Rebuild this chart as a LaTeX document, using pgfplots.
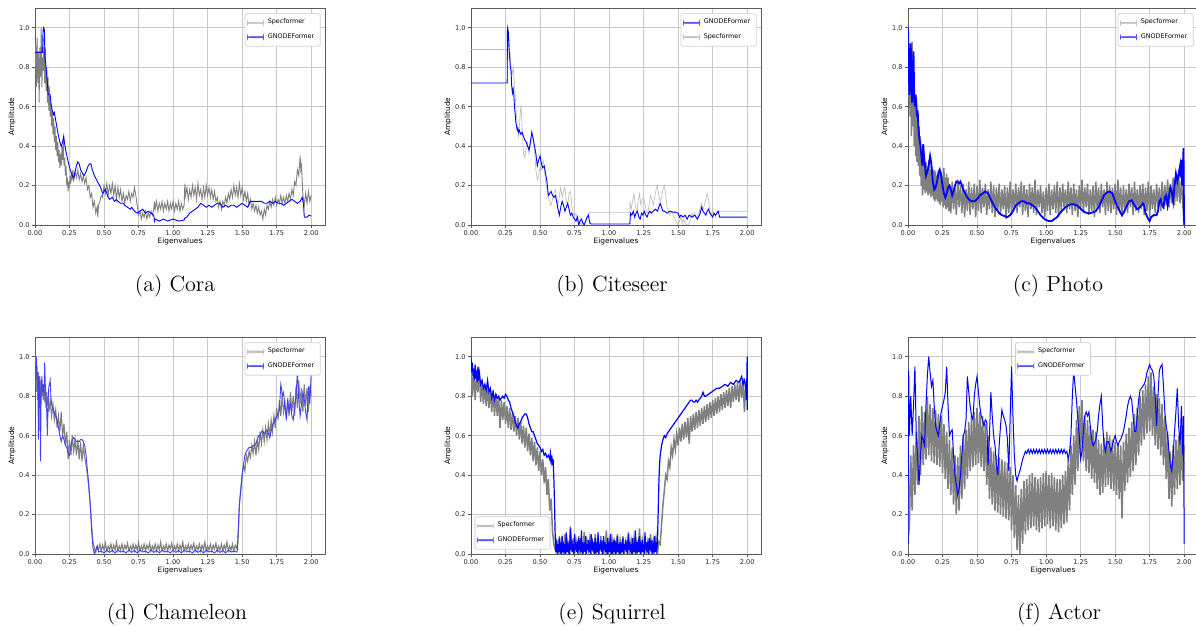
\documentclass[border=0pt]{standalone}
\usepackage{fontspec}
\usepackage{xcolor}
\usepackage{pgfplots}
\pgfplotsset{compat=1.18}
\newfontfamily\djv{DejaVu Sans}
\definecolor{spec}{RGB}{128,128,128}
\definecolor{specleg}{RGB}{192,192,192}
\definecolor{gnode}{RGB}{0,0,255}
\definecolor{gnodeleg}{RGB}{80,80,250}
\definecolor{gridc}{RGB}{200,200,200}
\definecolor{framec}{RGB}{90,90,90}
\newcommand{\tkfont}{\djv\fontsize{3.3}{4}\selectfont}
\newcommand{\lbfont}{\djv\fontsize{3.7}{4.4}\selectfont}
\newcommand{\lgfont}{\djv\fontsize{3.2}{3.8}\selectfont}
\newcommand{\capfont}{\fontsize{11}{13}\selectfont}
\pgfplotsset{
  panel/.style={
    scale only axis, width=145pt, height=108.5pt,
    xmin=0, xmax=2.1, ymin=0, ymax=1.1,
    xtick={0,0.25,0.5,0.75,1,1.25,1.5,1.75,2},
    xticklabels={0.00,0.25,0.50,0.75,1.00,1.25,1.50,1.75,2.00},
    ytick={0,0.2,0.4,0.6,0.8,1.0},
    yticklabels={0.0,0.2,0.4,0.6,0.8,1.0},
    xtick pos=bottom, ytick pos=left,
    grid=major, grid style={draw=gridc, line width=0.45pt},
    axis line style={draw=framec, line width=0.4pt},
    tick style={draw=framec, line width=0.3pt},
    tick align=outside, major tick length=1.5pt,
    ticklabel style={font=\tkfont, text=black!85},
    xticklabel style={inner sep=1pt},
    yticklabel style={inner sep=1pt},
    xlabel={Eigenvalues}, ylabel={Amplitude},
    label style={font=\lbfont},
    xlabel style={at={(axis description cs:0.5,-0.078)}, anchor=center},
    ylabel style={at={(axis description cs:-0.079,0.5)}, anchor=center},
    legend style={font=\lgfont, draw=gray!35, rounded corners=1pt,
      inner xsep=1pt, inner ysep=0.6pt, row sep=-0.8pt,
      at={(0.985,0.975)}, anchor=north east},
    legend cell align=left,
  },
  sp/.style={draw=spec, line width=0.45pt, forget plot},
  gn/.style={draw=gnode, line width=0.45pt, forget plot},
  lsp/.style={legend image code/.code={\fill[specleg] (0pt,-0.2pt) rectangle (8pt,0.2pt);}},
  lspw/.style={legend image code/.code={\fill[specleg] (0pt,-0.4pt) rectangle (8pt,0.4pt);}},
  lgn/.style={legend image code/.code={\fill[gnodeleg] (0pt,-0.22pt) rectangle (8pt,0.22pt);}},
}
\begin{document}
\begin{tikzpicture}
\path[use as bounding box] (0,0) rectangle (598pt,313pt);

%% (a) Cora
\begin{axis}[panel, at={(17.5pt,200.5pt)}, anchor=south west]
\addplot[sp] coordinates {
(0.000,0.80)(0.005,0.92)(0.010,0.70)(0.015,0.95)(0.020,0.72)(0.025,0.88)(0.030,0.62)(0.035,0.90)(0.040,0.75)(0.045,1.00)
(0.050,0.70)(0.055,0.85)(0.060,0.78)(0.065,0.95)(0.070,0.72)(0.075,0.90)(0.080,0.68)(0.085,0.80)(0.090,0.62)(0.095,0.75)
(0.100,0.58)(0.105,0.70)(0.110,0.55)(0.115,0.62)(0.120,0.50)(0.125,0.58)(0.130,0.46)(0.135,0.54)(0.140,0.42)(0.145,0.50)
(0.150,0.38)(0.155,0.45)(0.160,0.35)(0.165,0.42)(0.170,0.32)(0.175,0.38)(0.180,0.29)(0.185,0.36)(0.190,0.30)(0.195,0.40)
(0.200,0.33)(0.205,0.45)(0.210,0.30)(0.215,0.34)(0.220,0.25)(0.225,0.30)(0.230,0.20)(0.235,0.24)(0.240,0.17)(0.245,0.22)
(0.250,0.19)(0.255,0.25)(0.260,0.21)(0.265,0.27)(0.270,0.23)(0.275,0.28)(0.280,0.22)(0.290,0.27)(0.300,0.24)(0.310,0.28)
(0.320,0.23)(0.330,0.26)(0.340,0.22)(0.350,0.25)(0.360,0.21)(0.370,0.24)(0.380,0.18)(0.390,0.20)(0.400,0.14)(0.410,0.16)
(0.420,0.09)(0.430,0.12)(0.440,0.06)(0.450,0.09)(0.455,0.04)(0.460,0.10)(0.470,0.12)(0.480,0.15)(0.490,0.14)(0.500,0.20)
(0.510,0.16)(0.520,0.21)(0.530,0.15)(0.540,0.20)(0.550,0.16)(0.560,0.21)(0.570,0.15)(0.580,0.20)(0.590,0.13)(0.600,0.19)
(0.610,0.14)(0.620,0.18)(0.630,0.12)(0.640,0.16)(0.650,0.11)(0.660,0.15)(0.670,0.13)(0.680,0.17)(0.690,0.12)(0.700,0.16)
(0.710,0.14)(0.720,0.19)(0.730,0.15)(0.740,0.10)(0.750,0.05)(0.760,0.07)(0.770,0.03)(0.780,0.06)(0.790,0.04)(0.800,0.07)
(0.810,0.03)(0.820,0.06)(0.830,0.04)(0.840,0.07)(0.850,0.05)(0.860,0.08)(0.865,0.12)(0.870,0.08)(0.880,0.12)(0.890,0.07)
(0.900,0.11)(0.910,0.08)(0.920,0.12)(0.930,0.07)(0.940,0.11)(0.950,0.08)(0.960,0.12)(0.970,0.07)(0.980,0.11)(0.990,0.08)
(1.000,0.12)(1.010,0.07)(1.020,0.11)(1.030,0.08)(1.040,0.12)(1.050,0.07)(1.060,0.11)(1.070,0.08)(1.080,0.10)(1.085,0.21)
(1.090,0.15)(1.100,0.19)(1.110,0.13)(1.120,0.18)(1.130,0.14)(1.140,0.20)(1.150,0.15)(1.160,0.19)(1.170,0.13)(1.180,0.21)
(1.190,0.15)(1.200,0.18)(1.210,0.13)(1.220,0.19)(1.230,0.14)(1.240,0.20)(1.250,0.15)(1.260,0.19)(1.270,0.14)(1.280,0.18)
(1.290,0.13)(1.300,0.17)(1.310,0.12)(1.320,0.14)(1.330,0.09)(1.340,0.12)(1.350,0.08)(1.360,0.12)(1.370,0.10)(1.380,0.14)
(1.390,0.11)(1.400,0.16)(1.410,0.13)(1.420,0.18)(1.430,0.14)(1.440,0.20)(1.450,0.15)(1.460,0.19)(1.470,0.14)(1.480,0.21)
(1.490,0.15)(1.500,0.19)(1.510,0.13)(1.520,0.17)(1.530,0.12)(1.540,0.16)(1.550,0.10)(1.560,0.13)(1.570,0.08)(1.580,0.11)
(1.590,0.07)(1.600,0.10)(1.610,0.06)(1.620,0.09)(1.630,0.05)(1.640,0.07)(1.650,0.03)(1.660,0.08)(1.670,0.05)(1.680,0.10)
(1.690,0.08)(1.700,0.12)(1.710,0.09)(1.720,0.13)(1.730,0.10)(1.740,0.14)(1.750,0.10)(1.760,0.13)(1.770,0.11)(1.780,0.15)
(1.790,0.11)(1.800,0.14)(1.810,0.11)(1.820,0.15)(1.830,0.12)(1.840,0.16)(1.850,0.13)(1.860,0.18)(1.870,0.15)(1.880,0.22)
(1.890,0.20)(1.900,0.28)(1.910,0.25)(1.920,0.35)(1.925,0.28)(1.930,0.30)(1.940,0.15)(1.950,0.10)(1.960,0.16)(1.970,0.11)
(1.980,0.17)(1.990,0.12)(2.000,0.15)};
\addplot[gn] coordinates {
(0.000,0.875)(0.055,0.875)(0.058,0.98)(0.062,1.00)(0.068,0.99)(0.072,0.85)(0.080,0.80)(0.090,0.72)(0.095,0.66)(0.110,0.66)
(0.115,0.62)(0.125,0.58)(0.135,0.56)(0.140,0.57)(0.150,0.53)(0.160,0.49)(0.170,0.45)(0.180,0.42)(0.190,0.40)(0.200,0.42)
(0.208,0.45)(0.215,0.41)(0.225,0.37)(0.240,0.32)(0.255,0.28)(0.270,0.25)(0.280,0.24)(0.290,0.27)(0.300,0.30)(0.310,0.32)
(0.320,0.31)(0.330,0.28)(0.345,0.26)(0.355,0.25)(0.370,0.27)(0.385,0.30)(0.395,0.31)(0.405,0.31)(0.415,0.28)(0.430,0.25)
(0.445,0.23)(0.460,0.21)(0.475,0.19)(0.490,0.16)(0.500,0.17)(0.510,0.18)(0.520,0.16)(0.530,0.14)(0.540,0.13)(0.560,0.14)
(0.575,0.12)(0.590,0.13)(0.600,0.12)(0.620,0.11)(0.640,0.11)(0.650,0.10)(0.670,0.09)(0.690,0.08)(0.700,0.09)(0.720,0.07)
(0.740,0.06)(0.760,0.07)(0.780,0.08)(0.800,0.06)(0.820,0.07)(0.840,0.06)(0.860,0.05)(0.865,0.02)(0.870,0.03)(0.900,0.02)
(0.930,0.03)(0.960,0.02)(1.000,0.03)(1.040,0.02)(1.080,0.025)(1.085,0.035)(1.100,0.04)(1.120,0.06)(1.140,0.07)(1.160,0.08)
(1.180,0.09)(1.200,0.11)(1.220,0.10)(1.240,0.09)(1.260,0.10)(1.280,0.09)(1.300,0.10)(1.320,0.11)(1.340,0.11)(1.360,0.09)
(1.380,0.10)(1.400,0.09)(1.420,0.10)(1.440,0.10)(1.460,0.09)(1.480,0.10)(1.500,0.11)(1.520,0.10)(1.540,0.09)(1.560,0.12)
(1.600,0.12)(1.620,0.12)(1.640,0.12)(1.660,0.11)(1.680,0.11)(1.700,0.12)(1.720,0.11)(1.740,0.12)(1.760,0.11)(1.780,0.11)
(1.800,0.10)(1.820,0.11)(1.840,0.12)(1.860,0.13)(1.880,0.12)(1.900,0.11)(1.920,0.12)(1.935,0.14)(1.945,0.10)(1.950,0.04)
(1.970,0.04)(1.985,0.05)(2.000,0.045)};
\addlegendimage{lsp}\addlegendentry{Specformer}
\addlegendimage{lgn}\addlegendentry{GNODEFormer}
\end{axis}

%% (b) Citeseer
\begin{axis}[panel, at={(235.5pt,200.5pt)}, anchor=south west]
\addplot[sp, draw=specleg, line width=0.35pt] coordinates {
(0.000,0.89)(0.262,0.89)(0.265,0.72)(0.268,1.00)(0.275,0.95)(0.285,0.85)(0.295,0.75)(0.305,0.80)(0.315,0.72)(0.325,0.60)
(0.335,0.50)(0.345,0.45)(0.355,0.55)(0.362,0.61)(0.370,0.50)(0.380,0.36)(0.390,0.34)(0.400,0.40)(0.410,0.42)(0.420,0.36)
(0.430,0.40)(0.440,0.45)(0.450,0.43)(0.460,0.38)(0.470,0.28)(0.480,0.23)(0.490,0.25)(0.500,0.30)(0.510,0.28)(0.520,0.33)
(0.530,0.30)(0.540,0.22)(0.550,0.18)(0.560,0.14)(0.570,0.12)(0.580,0.10)(0.590,0.13)(0.600,0.16)(0.610,0.18)(0.620,0.14)
(0.630,0.10)(0.640,0.15)(0.650,0.19)(0.660,0.14)(0.670,0.17)(0.680,0.19)(0.690,0.12)(0.700,0.10)(0.710,0.16)(0.720,0.17)
(0.730,0.10)(0.740,0.06)(0.750,0.04)(0.760,0.06)(0.770,0.02)(0.780,0.03)(0.790,0.01)(0.800,0.00)(0.810,0.02)(0.820,0.00)
(0.840,0.03)(0.855,0.065)(1.150,0.065)(1.152,0.12)(1.160,0.08)(1.170,0.12)(1.180,0.16)(1.190,0.10)(1.200,0.06)(1.210,0.12)
(1.220,0.16)(1.230,0.10)(1.240,0.13)(1.250,0.14)(1.260,0.10)(1.270,0.07)(1.280,0.06)(1.290,0.10)(1.300,0.15)(1.310,0.13)
(1.320,0.10)(1.330,0.14)(1.340,0.18)(1.350,0.20)(1.360,0.15)(1.370,0.12)(1.380,0.14)(1.390,0.18)(1.400,0.20)(1.410,0.15)
(1.420,0.09)(1.430,0.07)(1.440,0.05)(1.450,0.07)(1.460,0.06)(1.470,0.04)(1.480,0.03)(1.490,0.01)(1.500,0.00)(1.510,0.02)
(1.520,0.04)(1.530,0.01)(1.540,0.03)(1.550,0.01)(1.560,0.00)(1.570,0.00)(1.580,0.01)(1.590,0.03)(1.600,0.06)(1.610,0.04)
(1.620,0.06)(1.630,0.03)(1.640,0.05)(1.650,0.06)(1.660,0.09)(1.670,0.11)(1.680,0.08)(1.690,0.10)(1.700,0.13)(1.710,0.16)
(1.720,0.13)(1.730,0.07)(1.740,0.05)(1.750,0.08)(1.760,0.06)(1.770,0.04)(1.780,0.06)(1.790,0.07)(2.000,0.07)};
\addplot[gn] coordinates {
(0.000,0.72)(0.262,0.72)(0.264,1.00)(0.270,0.98)(0.275,0.90)(0.280,0.85)(0.285,0.80)(0.290,0.78)(0.295,0.70)(0.300,0.67)
(0.305,0.69)(0.310,0.66)(0.315,0.60)(0.320,0.56)(0.325,0.52)(0.330,0.50)(0.335,0.48)(0.340,0.49)(0.345,0.47)(0.350,0.48)
(0.360,0.46)(0.370,0.47)(0.380,0.45)(0.390,0.43)(0.400,0.42)(0.410,0.40)(0.420,0.38)(0.430,0.42)(0.440,0.47)(0.450,0.44)
(0.460,0.40)(0.470,0.36)(0.480,0.30)(0.490,0.33)(0.500,0.35)(0.510,0.31)(0.520,0.29)(0.530,0.30)(0.540,0.26)(0.550,0.22)
(0.560,0.15)(0.570,0.16)(0.580,0.17)(0.590,0.15)(0.600,0.14)(0.610,0.15)(0.620,0.12)(0.630,0.08)(0.640,0.05)(0.650,0.09)
(0.660,0.12)(0.670,0.10)(0.680,0.07)(0.690,0.09)(0.700,0.11)(0.710,0.08)(0.720,0.05)(0.730,0.06)(0.740,0.04)(0.750,0.03)
(0.760,0.02)(0.770,0.04)(0.780,0.00)(0.790,0.02)(0.800,0.03)(0.810,0.01)(0.820,0.00)(0.830,0.02)(0.840,0.04)(0.850,0.05)
(0.860,0.01)(0.870,0.005)(1.150,0.005)(1.155,0.06)(1.165,0.05)(1.175,0.07)(1.185,0.04)(1.195,0.06)(1.205,0.07)(1.215,0.04)
(1.225,0.03)(1.235,0.06)(1.245,0.05)(1.255,0.07)(1.265,0.05)(1.275,0.04)(1.285,0.06)(1.295,0.07)(1.305,0.06)(1.320,0.07)
(1.335,0.08)(1.350,0.07)(1.360,0.09)(1.370,0.11)(1.380,0.09)(1.390,0.07)(1.400,0.07)(1.420,0.06)(1.440,0.07)(1.460,0.065)
(1.480,0.065)(1.500,0.06)(1.510,0.04)(1.520,0.05)(1.535,0.04)(1.550,0.05)(1.565,0.03)(1.580,0.05)(1.600,0.04)(1.620,0.05)
(1.640,0.03)(1.660,0.06)(1.670,0.09)(1.680,0.07)(1.690,0.06)(1.700,0.05)(1.710,0.07)(1.720,0.08)(1.730,0.06)(1.740,0.05)
(1.750,0.04)(1.760,0.06)(1.770,0.05)(1.780,0.06)(1.790,0.07)(1.800,0.04)(2.000,0.04)};
\addlegendimage{lgn}\addlegendentry{GNODEFormer}
\addlegendimage{lsp}\addlegendentry{Specformer}
\end{axis}

%% (c) Photo
\begin{axis}[panel, at={(454pt,200.5pt)}, anchor=south west]
\addplot[sp, line width=0.75pt] coordinates {
(0.000,1.00)(0.005,0.65)(0.010,0.92)(0.015,0.55)(0.020,0.85)(0.025,0.45)(0.030,0.93)(0.035,0.50)(0.040,0.72)(0.045,0.40)
(0.050,0.65)(0.055,0.35)(0.060,0.60)(0.065,0.32)(0.070,0.55)(0.075,0.30)(0.080,0.50)(0.085,0.25)(0.090,0.45)(0.095,0.20)
(0.100,0.38)(0.105,0.15)(0.110,0.34)(0.115,0.18)(0.120,0.30)(0.125,0.16)(0.130,0.32)(0.135,0.17)(0.140,0.30)(0.145,0.15)
(0.150,0.33)(0.155,0.16)(0.160,0.28)(0.165,0.14)(0.170,0.30)(0.175,0.15)(0.180,0.27)(0.185,0.13)(0.190,0.28)(0.195,0.12)
(0.200,0.27)(0.205,0.13)(0.210,0.25)(0.215,0.12)(0.220,0.28)(0.225,0.11)(0.230,0.26)(0.235,0.10)(0.240,0.27)(0.245,0.12)
(0.250,0.25)(0.255,0.09)(0.260,0.29)(0.265,0.10)(0.270,0.24)(0.275,0.08)(0.280,0.26)(0.285,0.09)(0.290,0.24)(0.295,0.07)
(0.30,0.20)(0.31,0.06)(0.32,0.22)(0.33,0.08)(0.34,0.19)(0.35,0.05)(0.36,0.23)(0.37,0.09)(0.38,0.20)(0.39,0.06)
(0.40,0.21)(0.41,0.04)(0.42,0.18)(0.43,0.07)(0.44,0.22)(0.45,0.05)(0.46,0.19)(0.47,0.08)(0.48,0.21)(0.49,0.04)
(0.50,0.20)(0.51,0.07)(0.52,0.23)(0.53,0.06)(0.54,0.19)(0.55,0.09)(0.56,0.21)(0.57,0.05)(0.58,0.18)(0.59,0.08)
(0.60,0.22)(0.61,0.06)(0.62,0.20)(0.63,0.04)(0.64,0.19)(0.65,0.07)(0.66,0.21)(0.67,0.05)(0.68,0.18)(0.69,0.08)
(0.70,0.20)(0.71,0.03)(0.72,0.19)(0.73,0.06)(0.74,0.22)(0.75,0.05)(0.76,0.18)(0.77,0.08)(0.78,0.21)(0.79,0.06)
(0.80,0.19)(0.81,0.09)(0.82,0.22)(0.83,0.05)(0.84,0.20)(0.85,0.07)(0.86,0.18)(0.87,0.04)(0.88,0.21)(0.89,0.08)
(0.90,0.19)(0.91,0.06)(0.92,0.23)(0.93,0.05)(0.94,0.18)(0.95,0.09)(0.96,0.20)(0.97,0.06)(0.98,0.17)(0.99,0.04)
(1.00,0.19)(1.01,0.07)(1.02,0.21)(1.03,0.05)(1.04,0.18)(1.05,0.08)(1.06,0.20)(1.07,0.06)(1.08,0.22)(1.09,0.04)
(1.10,0.19)(1.11,0.07)(1.12,0.21)(1.13,0.09)(1.14,0.18)(1.15,0.06)(1.16,0.22)(1.17,0.08)(1.18,0.19)(1.19,0.05)
(1.20,0.21)(1.21,0.07)(1.22,0.18)(1.23,0.04)(1.24,0.20)(1.25,0.08)(1.26,0.23)(1.27,0.06)(1.28,0.19)(1.29,0.09)
(1.30,0.21)(1.31,0.05)(1.32,0.18)(1.33,0.07)(1.34,0.20)(1.35,0.04)(1.36,0.22)(1.37,0.08)(1.38,0.19)(1.39,0.06)
(1.40,0.21)(1.41,0.09)(1.42,0.18)(1.43,0.05)(1.44,0.22)(1.45,0.07)(1.46,0.20)(1.47,0.06)(1.48,0.19)(1.49,0.08)
(1.50,0.21)(1.51,0.05)(1.52,0.23)(1.53,0.07)(1.54,0.19)(1.55,0.04)(1.56,0.20)(1.57,0.08)(1.58,0.18)(1.59,0.06)
(1.60,0.21)(1.61,0.09)(1.62,0.19)(1.63,0.05)(1.64,0.22)(1.65,0.07)(1.66,0.18)(1.67,0.06)(1.68,0.20)(1.69,0.08)
(1.70,0.21)(1.71,0.05)(1.72,0.19)(1.73,0.07)(1.74,0.22)(1.75,0.04)(1.76,0.20)(1.77,0.08)(1.78,0.18)(1.79,0.06)
(1.80,0.21)(1.81,0.09)(1.82,0.19)(1.83,0.07)(1.84,0.22)(1.85,0.08)(1.86,0.20)(1.87,0.10)(1.88,0.23)(1.89,0.09)
(1.90,0.21)(1.91,0.11)(1.92,0.24)(1.93,0.10)(1.94,0.22)(1.95,0.12)(1.96,0.25)(1.97,0.11)(1.98,0.23)(1.99,0.10)(2.00,0.00)};
\addplot[gn, line width=0.9pt] coordinates {
(0.000,1.00)(0.005,0.80)(0.010,0.66)(0.015,0.78)(0.020,0.92)(0.025,0.70)(0.030,0.62)(0.035,0.80)(0.040,0.88)(0.045,0.65)
(0.050,0.60)(0.055,0.66)(0.060,0.62)(0.065,0.55)(0.070,0.58)(0.075,0.50)(0.080,0.45)(0.090,0.40)(0.100,0.33)(0.105,0.30)
(0.110,0.41)(0.115,0.36)(0.120,0.32)(0.130,0.25)(0.140,0.27)(0.150,0.30)(0.160,0.35)(0.165,0.33)(0.170,0.30)(0.180,0.22)
(0.190,0.18)(0.200,0.19)(0.210,0.22)(0.220,0.26)(0.230,0.28)(0.240,0.25)(0.250,0.20)(0.260,0.16)(0.270,0.14)(0.280,0.16)
(0.290,0.19)(0.300,0.20)(0.310,0.18)(0.320,0.15)(0.330,0.17)(0.340,0.20)(0.350,0.22)(0.360,0.22)(0.370,0.21)(0.380,0.22)
(0.390,0.20)(0.400,0.18)(0.420,0.15)(0.440,0.13)(0.460,0.12)(0.480,0.12)(0.500,0.13)(0.520,0.15)(0.540,0.16)(0.560,0.17)
(0.580,0.16)(0.600,0.13)(0.620,0.10)(0.640,0.08)(0.660,0.06)(0.680,0.05)(0.700,0.045)(0.720,0.04)(0.740,0.05)(0.760,0.07)
(0.780,0.10)(0.800,0.11)(0.820,0.12)(0.840,0.12)(0.860,0.11)(0.880,0.11)(0.900,0.10)(0.920,0.09)(0.940,0.07)(0.960,0.05)
(0.980,0.035)(1.000,0.025)(1.020,0.02)(1.040,0.02)(1.060,0.03)(1.080,0.04)(1.100,0.06)(1.120,0.075)(1.140,0.09)(1.160,0.10)
(1.180,0.105)(1.200,0.105)(1.220,0.10)(1.240,0.09)(1.260,0.075)(1.280,0.065)(1.300,0.06)(1.320,0.06)(1.340,0.065)(1.360,0.07)
(1.380,0.09)(1.400,0.12)(1.420,0.15)(1.440,0.165)(1.460,0.17)(1.480,0.16)(1.500,0.12)(1.520,0.09)(1.540,0.06)(1.550,0.05)
(1.560,0.06)(1.580,0.09)(1.600,0.12)(1.620,0.125)(1.640,0.10)(1.660,0.08)(1.680,0.09)(1.700,0.11)(1.710,0.10)(1.720,0.06)
(1.740,0.03)(1.750,0.02)(1.760,0.04)(1.780,0.05)(1.800,0.05)(1.810,0.07)(1.820,0.12)(1.830,0.13)(1.840,0.10)(1.850,0.09)
(1.860,0.14)(1.870,0.15)(1.880,0.10)(1.890,0.15)(1.900,0.19)(1.910,0.17)(1.920,0.12)(1.930,0.20)(1.940,0.26)(1.950,0.22)
(1.960,0.26)(1.970,0.30)(1.975,0.24)(1.980,0.33)(1.985,0.20)(1.990,0.28)(1.995,0.39)(1.998,0.10)(2.000,0.00)};
\addlegendimage{lsp}\addlegendentry{Specformer}
\addlegendimage{lgn}\addlegendentry{GNODEFormer}
\end{axis}

%% (d) Chameleon
\begin{axis}[panel, at={(17.5pt,36pt)}, anchor=south west]
\addplot[sp, line width=0.55pt] coordinates {
(0.000,0.85)(0.005,1.00)(0.010,0.82)(0.015,0.95)(0.020,0.78)(0.025,0.92)(0.030,0.80)(0.035,0.90)(0.040,0.76)(0.045,0.88)
(0.050,0.80)(0.055,0.86)(0.060,0.78)(0.065,0.84)(0.070,0.77)(0.075,0.83)(0.080,0.74)(0.085,0.82)(0.090,0.75)(0.095,0.80)
(0.10,0.72)(0.11,0.78)(0.12,0.70)(0.13,0.76)(0.14,0.68)(0.15,0.73)(0.16,0.64)(0.17,0.70)(0.18,0.62)(0.19,0.72)
(0.20,0.60)(0.21,0.66)(0.22,0.55)(0.23,0.62)(0.24,0.48)(0.25,0.58)(0.26,0.50)(0.27,0.60)(0.28,0.52)(0.29,0.58)
(0.30,0.50)(0.31,0.58)(0.32,0.48)(0.33,0.57)(0.34,0.47)(0.35,0.55)(0.36,0.49)(0.37,0.45)(0.38,0.40)(0.39,0.33)
(0.40,0.25)(0.41,0.15)(0.42,0.06)(0.43,0.03)(0.44,0.01)(0.45,0.04)
(0.46,0.02)(0.47,0.05)(0.48,0.015)(0.49,0.045)(0.50,0.02)(0.51,0.055)(0.52,0.015)(0.53,0.04)(0.54,0.02)(0.55,0.05)
(0.56,0.015)(0.57,0.045)(0.58,0.02)(0.59,0.06)(0.60,0.015)(0.61,0.04)(0.62,0.02)(0.63,0.05)(0.64,0.015)(0.65,0.045)
(0.66,0.025)(0.67,0.055)(0.68,0.015)(0.69,0.04)(0.70,0.02)(0.71,0.05)(0.72,0.015)(0.73,0.045)(0.74,0.02)(0.75,0.06)
(0.76,0.015)(0.77,0.04)(0.78,0.02)(0.79,0.05)(0.80,0.015)(0.81,0.045)(0.82,0.025)(0.83,0.055)(0.84,0.015)(0.85,0.04)
(0.86,0.02)(0.87,0.05)(0.88,0.015)(0.89,0.045)(0.90,0.02)(0.91,0.06)(0.92,0.015)(0.93,0.04)(0.94,0.02)(0.95,0.05)
(0.96,0.015)(0.97,0.045)(0.98,0.025)(0.99,0.055)(1.00,0.015)(1.01,0.04)(1.02,0.02)(1.03,0.05)(1.04,0.015)(1.05,0.045)
(1.06,0.02)(1.07,0.06)(1.08,0.015)(1.09,0.04)(1.10,0.02)(1.11,0.05)(1.12,0.015)(1.13,0.045)(1.14,0.025)(1.15,0.055)
(1.16,0.015)(1.17,0.04)(1.18,0.02)(1.19,0.05)(1.20,0.015)(1.21,0.045)(1.22,0.02)(1.23,0.06)(1.24,0.015)(1.25,0.04)
(1.26,0.02)(1.27,0.05)(1.28,0.015)(1.29,0.045)(1.30,0.025)(1.31,0.055)(1.32,0.015)(1.33,0.04)(1.34,0.02)(1.35,0.05)
(1.36,0.015)(1.37,0.045)(1.38,0.02)(1.39,0.06)(1.40,0.015)(1.41,0.04)(1.42,0.02)(1.43,0.05)(1.44,0.015)(1.45,0.045)
(1.46,0.03)(1.47,0.06)(1.475,0.15)(1.48,0.25)(1.49,0.33)(1.50,0.40)(1.51,0.45)(1.52,0.42)(1.53,0.50)(1.54,0.47)
(1.55,0.52)(1.56,0.49)(1.57,0.55)(1.58,0.51)(1.59,0.57)(1.60,0.50)(1.61,0.58)(1.62,0.53)(1.63,0.62)(1.64,0.56)
(1.65,0.63)(1.66,0.57)(1.67,0.64)(1.68,0.58)(1.69,0.66)(1.70,0.60)(1.71,0.68)(1.72,0.62)(1.73,0.70)(1.74,0.64)
(1.75,0.74)(1.76,0.68)(1.77,0.78)(1.78,0.70)(1.79,0.80)(1.80,0.72)(1.81,0.77)(1.82,0.68)(1.83,0.79)(1.84,0.70)
(1.85,0.82)(1.86,0.72)(1.87,0.80)(1.88,0.70)(1.89,0.85)(1.90,0.74)(1.91,0.88)(1.92,0.76)(1.93,0.84)(1.94,0.72)
(1.95,0.86)(1.96,0.75)(1.97,0.84)(1.98,0.72)(1.99,0.85)(2.00,0.80)};
\addplot[gn, draw=gnode!75] coordinates {
(0.000,0.82)(0.005,0.95)(0.010,1.00)(0.015,0.88)(0.020,0.92)(0.025,0.58)(0.030,0.90)(0.035,0.80)(0.040,0.47)(0.045,0.85)
(0.050,0.90)(0.055,0.82)(0.060,0.86)(0.065,0.80)(0.070,0.97)(0.075,0.85)(0.080,0.80)(0.085,0.72)(0.090,0.60)(0.095,0.78)
(0.100,0.85)(0.105,0.86)(0.110,0.88)(0.115,0.80)(0.120,0.76)(0.130,0.74)(0.140,0.72)(0.150,0.70)(0.160,0.68)(0.170,0.64)
(0.180,0.60)(0.190,0.57)(0.200,0.60)(0.210,0.58)(0.220,0.55)(0.230,0.54)(0.240,0.51)(0.250,0.50)(0.260,0.55)(0.270,0.58)
(0.280,0.59)(0.290,0.58)(0.300,0.57)(0.310,0.57)(0.320,0.57)(0.330,0.58)(0.340,0.58)(0.350,0.57)(0.360,0.55)(0.370,0.50)
(0.380,0.42)(0.390,0.35)(0.400,0.25)(0.410,0.12)(0.420,0.03)(0.430,0.00)(0.440,0.02)(0.450,0.04)(0.460,0.01)
(0.48,0.015)(0.50,0.005)(0.52,0.02)(0.54,0.008)(0.56,0.018)(0.58,0.005)(0.60,0.02)(0.62,0.01)(0.64,0.015)(0.66,0.005)
(0.68,0.02)(0.70,0.008)(0.72,0.018)(0.74,0.005)(0.76,0.02)(0.78,0.01)(0.80,0.015)(0.82,0.005)(0.84,0.02)(0.86,0.008)
(0.88,0.018)(0.90,0.005)(0.92,0.02)(0.94,0.01)(0.96,0.015)(0.98,0.005)(1.00,0.02)(1.02,0.008)(1.04,0.018)(1.06,0.005)
(1.08,0.02)(1.10,0.01)(1.12,0.015)(1.14,0.005)(1.16,0.02)(1.18,0.008)(1.20,0.018)(1.22,0.005)(1.24,0.02)(1.26,0.01)
(1.28,0.015)(1.30,0.005)(1.32,0.02)(1.34,0.008)(1.36,0.018)(1.38,0.005)(1.40,0.02)(1.42,0.01)(1.44,0.015)(1.46,0.01)
(1.465,0.02)(1.470,0.10)(1.480,0.25)(1.490,0.32)(1.500,0.40)(1.510,0.45)(1.520,0.50)(1.530,0.52)(1.540,0.53)(1.550,0.54)
(1.560,0.54)(1.570,0.54)(1.580,0.55)(1.590,0.55)(1.600,0.56)(1.610,0.58)(1.620,0.60)(1.630,0.60)(1.640,0.62)(1.650,0.62)
(1.660,0.61)(1.670,0.62)(1.680,0.63)(1.690,0.61)(1.700,0.59)(1.710,0.62)(1.720,0.65)(1.730,0.67)(1.740,0.68)(1.750,0.70)
(1.760,0.71)(1.770,0.73)(1.780,0.86)(1.785,0.84)(1.790,0.80)(1.800,0.82)(1.810,0.74)(1.820,0.69)(1.830,0.78)(1.840,0.72)
(1.850,0.76)(1.860,0.70)(1.870,0.68)(1.880,0.74)(1.890,0.80)(1.900,0.92)(1.910,0.78)(1.920,0.70)(1.930,0.76)(1.940,0.82)
(1.950,0.78)(1.960,0.72)(1.970,0.68)(1.980,0.85)(1.990,0.76)(2.000,0.92)};
\addlegendimage{lspw}\addlegendentry{Specformer}
\addlegendimage{lgn}\addlegendentry{GNODEFormer}
\end{axis}

%% (e) Squirrel
\begin{axis}[panel, at={(235.5pt,36pt)}, anchor=south west,
  legend style={at={(0.012,0.02)}, anchor=south west}]
\addplot[sp, line width=0.75pt] coordinates {
(0.00,0.95)(0.01,0.80)(0.02,0.92)(0.03,0.78)(0.04,0.90)(0.05,0.82)(0.06,0.93)(0.07,0.77)(0.08,0.88)(0.09,0.76)
(0.10,0.86)(0.11,0.75)(0.12,0.85)(0.13,0.74)(0.14,0.84)(0.15,0.72)(0.16,0.83)(0.17,0.70)(0.18,0.81)(0.19,0.70)
(0.20,0.80)(0.21,0.64)(0.22,0.78)(0.23,0.68)(0.24,0.77)(0.25,0.66)(0.26,0.75)(0.27,0.64)(0.28,0.74)(0.29,0.63)
(0.30,0.72)(0.31,0.62)(0.32,0.70)(0.33,0.60)(0.34,0.69)(0.35,0.58)(0.36,0.67)(0.37,0.56)(0.38,0.65)(0.39,0.54)
(0.40,0.64)(0.41,0.52)(0.42,0.61)(0.43,0.50)(0.44,0.59)(0.45,0.47)(0.46,0.57)(0.47,0.45)(0.48,0.54)(0.49,0.42)
(0.50,0.52)(0.51,0.40)(0.52,0.48)(0.53,0.36)(0.54,0.44)(0.55,0.30)(0.56,0.38)(0.57,0.22)(0.58,0.28)(0.59,0.12)
(0.60,0.05)(0.61,0.02)(0.62,0.06)(0.63,0.00)(0.64,0.09)(0.65,0.01)(0.66,0.07)(0.67,0.00)(0.68,0.10)(0.69,0.02)
(0.70,0.06)(0.71,0.00)(0.72,0.14)(0.73,0.01)(0.74,0.08)(0.75,0.00)(0.76,0.07)(0.77,0.02)(0.78,0.09)(0.79,0.00)
(0.80,0.06)(0.81,0.01)(0.82,0.11)(0.83,0.00)(0.84,0.07)(0.85,0.02)(0.86,0.08)(0.87,0.00)(0.88,0.06)(0.89,0.01)
(0.90,0.10)(0.91,0.00)(0.92,0.07)(0.93,0.02)(0.94,0.09)(0.95,0.00)(0.96,0.06)(0.97,0.01)(0.98,0.12)(0.99,0.00)
(1.00,0.07)(1.01,0.02)(1.02,0.08)(1.03,0.00)(1.04,0.06)(1.05,0.01)(1.06,0.10)(1.07,0.00)(1.08,0.07)(1.09,0.02)
(1.10,0.09)(1.11,0.00)(1.12,0.06)(1.13,0.01)(1.14,0.11)(1.15,0.00)(1.16,0.07)(1.17,0.02)(1.18,0.08)(1.19,0.00)
(1.20,0.06)(1.21,0.01)(1.22,0.13)(1.23,0.00)(1.24,0.07)(1.25,0.02)(1.26,0.09)(1.27,0.00)(1.28,0.06)(1.29,0.01)
(1.30,0.10)(1.31,0.00)(1.32,0.07)(1.33,0.02)(1.34,0.08)(1.35,0.00)(1.36,0.06)(1.37,0.05)(1.38,0.15)(1.39,0.25)
(1.40,0.32)(1.41,0.40)(1.42,0.38)(1.43,0.47)(1.44,0.44)(1.45,0.54)(1.46,0.50)(1.47,0.58)(1.48,0.53)(1.49,0.61)
(1.50,0.55)(1.51,0.64)(1.52,0.57)(1.53,0.66)(1.54,0.58)(1.55,0.67)(1.56,0.59)(1.57,0.69)(1.58,0.56)(1.59,0.70)
(1.60,0.62)(1.61,0.71)(1.62,0.63)(1.63,0.72)(1.64,0.64)(1.65,0.73)(1.66,0.65)(1.67,0.74)(1.68,0.66)(1.69,0.75)
(1.70,0.67)(1.71,0.76)(1.72,0.68)(1.73,0.77)(1.74,0.69)(1.75,0.78)(1.76,0.70)(1.77,0.79)(1.78,0.71)(1.79,0.80)
(1.80,0.72)(1.81,0.81)(1.82,0.73)(1.83,0.82)(1.84,0.74)(1.85,0.83)(1.86,0.75)(1.87,0.84)(1.88,0.74)(1.89,0.85)
(1.90,0.77)(1.91,0.86)(1.92,0.78)(1.93,0.87)(1.94,0.77)(1.95,0.88)(1.96,0.79)(1.97,0.89)(1.98,0.72)(1.99,0.86)(2.00,0.84)};
\addplot[gn, line width=0.6pt] coordinates {
(0.000,1.00)(0.005,0.92)(0.010,0.97)(0.015,0.90)(0.020,0.94)(0.025,0.88)(0.030,0.96)(0.035,0.89)(0.040,0.93)(0.045,0.87)
(0.050,0.95)(0.055,0.88)(0.060,0.92)(0.070,0.86)(0.080,0.88)(0.090,0.84)(0.100,0.86)(0.110,0.83)(0.120,0.88)(0.130,0.82)
(0.140,0.84)(0.150,0.79)(0.160,0.82)(0.170,0.78)(0.180,0.81)(0.190,0.79)(0.200,0.80)(0.210,0.78)(0.220,0.79)(0.230,0.80)
(0.240,0.79)(0.250,0.81)(0.260,0.80)(0.270,0.78)(0.280,0.77)(0.290,0.74)(0.300,0.72)(0.310,0.70)(0.320,0.67)(0.330,0.65)
(0.340,0.64)(0.350,0.66)(0.360,0.67)(0.370,0.69)(0.380,0.70)(0.390,0.71)(0.400,0.71)(0.410,0.69)(0.420,0.66)(0.430,0.64)
(0.440,0.62)(0.450,0.62)(0.460,0.60)(0.470,0.58)(0.480,0.56)(0.490,0.55)(0.500,0.54)(0.510,0.52)(0.520,0.53)(0.530,0.50)
(0.540,0.51)(0.550,0.49)(0.560,0.50)(0.570,0.48)(0.575,0.51)(0.580,0.47)(0.585,0.50)(0.590,0.45)(0.595,0.48)(0.600,0.38)
(0.605,0.25)(0.610,0.08)
(0.615,0.01)(0.620,0.07)(0.625,0.00)(0.630,0.05)(0.635,0.01)(0.640,0.08)(0.645,0.02)(0.650,0.04)(0.655,0.00)(0.660,0.09)
(0.665,0.01)(0.670,0.06)(0.675,0.02)(0.680,0.05)(0.685,0.00)(0.690,0.11)(0.695,0.01)(0.700,0.06)(0.705,0.02)(0.710,0.04)
(0.715,0.00)(0.720,0.13)(0.725,0.02)(0.730,0.07)(0.735,0.01)(0.740,0.05)(0.745,0.00)(0.750,0.10)(0.755,0.02)(0.760,0.06)
(0.765,0.01)(0.770,0.04)(0.775,0.00)(0.780,0.08)(0.785,0.02)(0.790,0.05)(0.795,0.01)(0.800,0.12)(0.805,0.00)(0.810,0.06)
(0.815,0.02)(0.820,0.04)(0.825,0.01)(0.830,0.09)(0.835,0.00)(0.840,0.05)(0.845,0.02)(0.850,0.07)(0.855,0.01)(0.860,0.04)
(0.865,0.00)(0.870,0.10)(0.875,0.02)(0.880,0.05)(0.885,0.01)(0.890,0.06)(0.895,0.00)(0.900,0.08)(0.905,0.02)(0.910,0.04)
(0.915,0.01)(0.920,0.11)(0.925,0.00)(0.930,0.05)(0.935,0.02)(0.940,0.07)(0.945,0.01)(0.950,0.04)(0.955,0.00)(0.960,0.09)
(0.965,0.02)(0.970,0.06)(0.975,0.01)(0.980,0.05)(0.985,0.00)(0.990,0.08)(0.995,0.02)(1.000,0.04)(1.005,0.01)(1.010,0.10)
(1.015,0.00)(1.020,0.06)(1.025,0.02)(1.030,0.05)(1.035,0.01)(1.040,0.07)(1.045,0.00)(1.050,0.04)(1.055,0.02)(1.060,0.09)
(1.065,0.01)(1.070,0.05)(1.075,0.00)(1.080,0.06)(1.085,0.02)(1.090,0.04)(1.095,0.01)(1.100,0.08)(1.105,0.00)(1.110,0.05)
(1.115,0.02)(1.120,0.07)(1.125,0.01)(1.130,0.04)(1.135,0.00)(1.140,0.10)(1.145,0.02)(1.150,0.06)(1.155,0.01)(1.160,0.05)
(1.165,0.00)(1.170,0.08)(1.175,0.02)(1.180,0.04)(1.185,0.01)(1.190,0.12)(1.195,0.00)(1.200,0.06)(1.205,0.02)(1.210,0.05)
(1.215,0.01)(1.220,0.09)(1.225,0.00)(1.230,0.04)(1.235,0.02)(1.240,0.07)(1.245,0.01)(1.250,0.05)(1.255,0.00)(1.260,0.11)
(1.265,0.02)(1.270,0.06)(1.275,0.01)(1.280,0.04)(1.285,0.00)(1.290,0.08)(1.295,0.02)(1.300,0.05)(1.305,0.01)(1.310,0.07)
(1.315,0.00)(1.320,0.04)(1.325,0.02)(1.330,0.09)(1.335,0.01)(1.340,0.06)(1.345,0.02)
(1.350,0.05)(1.355,0.20)(1.360,0.35)(1.365,0.45)(1.370,0.50)(1.380,0.55)(1.390,0.58)(1.400,0.60)(1.410,0.59)(1.420,0.61)
(1.430,0.62)(1.440,0.63)(1.450,0.64)(1.460,0.65)(1.470,0.66)(1.480,0.67)(1.490,0.68)(1.500,0.69)(1.510,0.70)(1.520,0.71)
(1.530,0.72)(1.540,0.73)(1.550,0.74)(1.560,0.75)(1.570,0.76)(1.580,0.77)(1.590,0.78)(1.600,0.78)(1.610,0.77)(1.620,0.77)
(1.630,0.78)(1.640,0.77)(1.650,0.78)(1.660,0.79)(1.670,0.80)(1.680,0.82)(1.690,0.80)(1.700,0.80)(1.720,0.81)(1.740,0.82)
(1.760,0.83)(1.780,0.84)(1.800,0.84)(1.820,0.85)(1.840,0.86)(1.860,0.85)(1.880,0.87)(1.900,0.86)(1.920,0.88)(1.940,0.87)
(1.960,0.90)(1.970,0.86)(1.980,0.88)(1.990,0.84)(1.995,0.78)(2.000,1.00)(2.000,0.73)};
\addlegendimage{lspw}\addlegendentry{Specformer}
\addlegendimage{lgn}\addlegendentry{GNODEFormer}
\end{axis}

%% (f) Actor
\begin{axis}[panel, at={(454pt,36pt)}, anchor=south west,
  legend style={at={(0.5,0.975)}, anchor=north}]
\addplot[sp, line width=0.8pt] coordinates {
(0.00,0.45)(0.005,0.10)(0.01,0.15)(0.02,0.50)(0.03,0.22)(0.04,0.55)(0.05,0.30)(0.06,0.62)(0.07,0.35)(0.08,0.70)(0.09,0.40)
(0.10,0.75)(0.11,0.45)(0.12,0.72)(0.13,0.48)(0.14,0.80)(0.15,0.50)(0.16,0.76)(0.17,0.47)(0.18,0.74)(0.19,0.46)
(0.20,0.73)(0.21,0.45)(0.22,0.71)(0.23,0.44)(0.24,0.70)(0.25,0.41)(0.26,0.66)(0.27,0.38)(0.28,0.62)(0.29,0.33)
(0.30,0.58)(0.31,0.30)(0.32,0.54)(0.33,0.25)(0.34,0.50)(0.35,0.20)(0.36,0.49)(0.37,0.22)(0.38,0.55)(0.39,0.28)
(0.40,0.60)(0.41,0.33)(0.42,0.63)(0.43,0.38)(0.44,0.67)(0.45,0.42)(0.46,0.70)(0.47,0.44)(0.48,0.72)(0.49,0.45)
(0.50,0.74)(0.51,0.46)(0.52,0.72)(0.53,0.44)(0.54,0.70)(0.55,0.42)(0.56,0.66)(0.57,0.35)(0.58,0.60)(0.59,0.28)
(0.60,0.54)(0.61,0.25)(0.62,0.52)(0.63,0.22)(0.64,0.50)(0.65,0.21)(0.66,0.49)(0.67,0.20)(0.68,0.48)(0.69,0.19)
(0.70,0.47)(0.71,0.18)(0.72,0.46)(0.73,0.17)(0.74,0.44)(0.75,0.12)(0.76,0.40)(0.77,0.08)(0.78,0.35)(0.79,0.02)
(0.80,0.30)(0.81,0.00)(0.82,0.33)(0.83,0.05)(0.84,0.37)(0.85,0.10)(0.86,0.38)(0.87,0.12)(0.88,0.40)(0.89,0.13)
(0.90,0.41)(0.91,0.14)(0.92,0.39)(0.93,0.12)(0.94,0.38)(0.95,0.11)(0.96,0.39)(0.97,0.13)(0.98,0.41)(0.99,0.14)
(1.00,0.42)(1.01,0.15)(1.02,0.40)(1.03,0.13)(1.04,0.41)(1.05,0.14)(1.06,0.39)(1.07,0.12)(1.08,0.38)(1.09,0.11)
(1.10,0.38)(1.11,0.13)(1.12,0.40)(1.13,0.15)(1.14,0.42)(1.15,0.16)(1.16,0.48)(1.17,0.22)(1.18,0.55)(1.19,0.30)
(1.20,0.60)(1.21,0.35)(1.22,0.68)(1.23,0.42)(1.24,0.75)(1.25,0.50)(1.26,0.78)(1.27,0.47)(1.28,0.70)(1.29,0.42)
(1.30,0.68)(1.31,0.41)(1.32,0.65)(1.33,0.38)(1.34,0.63)(1.35,0.36)(1.36,0.62)(1.37,0.33)(1.38,0.58)(1.39,0.30)
(1.40,0.56)(1.41,0.31)(1.42,0.59)(1.43,0.34)(1.44,0.62)(1.45,0.35)(1.46,0.60)(1.47,0.33)(1.48,0.58)(1.49,0.32)
(1.50,0.57)(1.51,0.30)(1.52,0.56)(1.53,0.28)(1.54,0.55)(1.55,0.18)(1.56,0.57)(1.57,0.32)(1.58,0.61)(1.59,0.36)
(1.60,0.64)(1.61,0.39)(1.62,0.67)(1.63,0.42)(1.64,0.71)(1.65,0.45)(1.66,0.74)(1.67,0.50)(1.68,0.80)(1.69,0.55)
(1.70,0.83)(1.71,0.58)(1.72,0.86)(1.73,0.61)(1.74,0.90)(1.75,0.62)(1.76,0.92)(1.77,0.60)(1.78,0.85)(1.79,0.55)
(1.80,0.81)(1.81,0.53)(1.82,0.79)(1.83,0.50)(1.84,0.76)(1.85,0.45)(1.86,0.70)(1.87,0.38)(1.88,0.62)(1.89,0.28)
(1.90,0.52)(1.91,0.24)(1.92,0.55)(1.93,0.30)(1.94,0.58)(1.95,0.33)(1.96,0.60)(1.97,0.35)(1.98,0.62)(1.99,0.37)(2.00,0.55)};
\addplot[gn, line width=0.5pt] coordinates {
(0.000,0.05)(0.005,0.93)(0.010,0.60)(0.020,0.80)(0.030,0.60)(0.040,0.75)(0.050,0.95)(0.060,0.60)(0.070,0.48)(0.080,0.35)
(0.090,0.50)(0.100,0.60)(0.110,0.58)(0.120,0.55)(0.130,0.75)(0.140,0.90)(0.150,1.00)(0.160,0.92)(0.170,0.85)(0.180,0.88)
(0.190,0.75)(0.200,0.65)(0.210,0.62)(0.220,0.60)(0.230,0.66)(0.240,0.72)(0.250,0.75)(0.260,0.78)(0.270,0.82)(0.280,0.95)
(0.290,0.75)(0.300,0.60)(0.310,0.62)(0.320,0.63)(0.330,0.50)(0.340,0.40)(0.350,0.35)(0.360,0.30)(0.370,0.33)(0.380,0.40)
(0.390,0.50)(0.400,0.60)(0.410,0.62)(0.420,0.68)(0.430,0.90)(0.440,0.82)(0.450,0.75)(0.460,0.70)(0.470,0.68)(0.480,0.80)
(0.490,0.86)(0.500,0.90)(0.510,0.82)(0.520,0.75)(0.530,0.70)(0.540,0.68)(0.550,0.65)(0.560,0.68)(0.570,0.67)(0.580,0.45)
(0.590,0.60)(0.600,0.82)(0.610,0.70)(0.620,0.60)(0.630,0.55)(0.640,0.45)(0.650,0.40)(0.660,0.55)(0.670,0.65)(0.680,0.73)
(0.690,0.70)(0.700,0.68)(0.710,0.65)(0.720,0.58)(0.730,0.42)(0.740,0.70)(0.750,0.95)(0.760,0.70)(0.770,0.50)(0.780,0.40)
(0.790,0.37)(0.800,0.40)(0.810,0.42)(0.820,0.45)(0.830,0.48)(0.840,0.50)(0.850,0.52)
(0.86,0.51)(0.87,0.53)(0.88,0.51)(0.89,0.53)(0.90,0.51)(0.91,0.53)(0.92,0.51)(0.93,0.53)(0.94,0.51)(0.95,0.53)
(0.96,0.51)(0.97,0.53)(0.98,0.51)(0.99,0.53)(1.00,0.51)(1.01,0.53)(1.02,0.51)(1.03,0.53)(1.04,0.51)(1.05,0.53)
(1.06,0.51)(1.07,0.53)(1.08,0.51)(1.09,0.53)(1.10,0.51)(1.11,0.53)(1.12,0.51)(1.13,0.53)(1.14,0.51)(1.15,0.52)
(1.160,0.48)(1.170,0.52)(1.180,0.60)(1.190,0.80)(1.200,0.93)(1.210,0.85)(1.220,0.78)(1.230,0.68)(1.240,0.60)(1.250,0.48)
(1.260,0.52)(1.270,0.62)(1.280,0.70)(1.290,0.72)(1.300,0.70)(1.310,0.72)(1.320,0.65)(1.330,0.58)(1.340,0.55)(1.350,0.56)
(1.360,0.58)(1.370,0.62)(1.380,0.70)(1.390,0.76)(1.400,0.80)(1.410,0.65)(1.420,0.55)(1.430,0.52)(1.440,0.57)(1.450,0.57)
(1.460,0.55)(1.470,0.52)(1.480,0.55)(1.490,0.58)(1.500,0.60)(1.510,0.57)(1.520,0.55)(1.530,0.57)(1.540,0.58)(1.550,0.60)
(1.560,0.62)(1.570,0.66)(1.580,0.70)(1.590,0.75)(1.600,0.78)(1.610,0.80)(1.620,0.78)(1.630,0.70)(1.640,0.62)(1.650,0.62)
(1.660,0.70)(1.670,0.78)(1.680,0.83)(1.690,0.84)(1.700,0.85)(1.710,0.86)(1.720,0.88)(1.730,0.92)(1.740,0.94)(1.750,0.96)
(1.760,0.94)(1.770,0.93)(1.780,0.90)(1.790,0.80)(1.800,0.65)(1.810,0.80)(1.820,0.93)(1.830,0.95)(1.840,0.96)(1.850,0.85)
(1.860,0.72)(1.870,0.65)(1.880,0.60)(1.890,0.52)(1.900,0.45)(1.910,0.42)(1.920,0.50)(1.930,0.62)(1.940,0.72)(1.950,0.84)
(1.960,0.65)(1.970,0.55)(1.980,0.75)(1.990,0.50)(1.995,0.70)(2.000,0.05)};
\addlegendimage{lspw}\addlegendentry{Specformer}
\addlegendimage{lgn}\addlegendentry{GNODEFormer}
\end{axis}

%% captions
\node[font=\capfont, anchor=base] at (87.5pt,167pt) {(a) Cora};
\node[font=\capfont, anchor=base] at (306pt,167pt) {(b) Citeseer};
\node[font=\capfont, anchor=base] at (529pt,167pt) {(c) Photo};
\node[font=\capfont, anchor=base] at (88.5pt,3pt) {(d) Chameleon};
\node[font=\capfont, anchor=base] at (306pt,3pt) {(e) Squirrel};
\node[font=\capfont, anchor=base] at (529.5pt,3pt) {(f) Actor};
\end{tikzpicture}
\end{document}
